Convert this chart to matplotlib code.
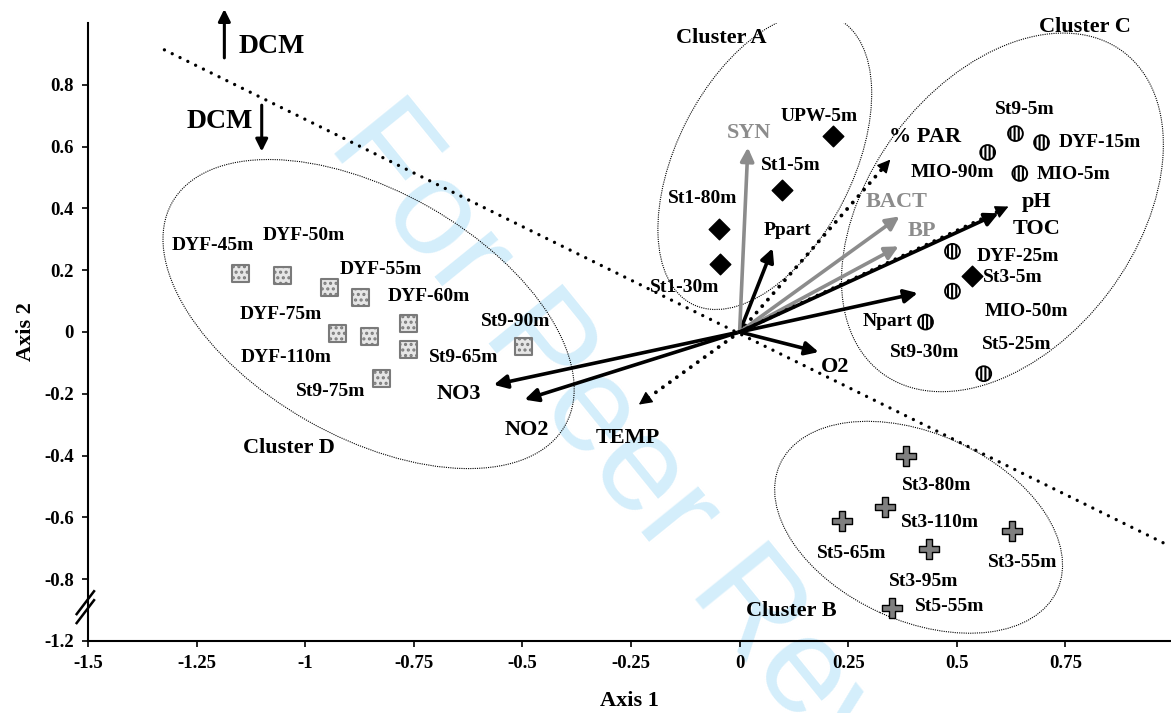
import math
import matplotlib
matplotlib.use('Agg')
import matplotlib.pyplot as plt
from matplotlib.patches import Ellipse, FancyArrowPatch
from matplotlib.transforms import Affine2D

plt.rcParams['font.family'] = ['Liberation Serif', 'DejaVu Serif']
plt.rcParams['font.weight'] = 'bold'
plt.rcParams['hatch.linewidth'] = 1.5

# ---- sample scores (axis 1, axis 2) ----
# cluster D : deep DYF / St9 samples
clD_x = [-1.149, -1.052, -0.944, -0.872, -0.762, -0.925, -0.852, -0.762, -0.497, -0.824]
clD_y = [0.190, 0.184, 0.145, 0.110, 0.026, -0.006, -0.016, -0.058, -0.048, -0.152]
# cluster A : St1 / UPW (+ St3-5m, same symbol)
clA_x = [0.214, 0.097, -0.048, -0.046, 0.534]
clA_y = [0.635, 0.461, 0.332, 0.219, 0.181]
# cluster C : surface samples
clC_x = [0.635, 0.695, 0.571, 0.645, 0.490, 0.490, 0.428, 0.562]
clC_y = [0.642, 0.613, 0.581, 0.513, 0.261, 0.132, 0.032, -0.135]
# cluster B : St3 / St5 deep
clB_x = [0.384, 0.334, 0.235, 0.437, 0.626, 0.350]
clB_y = [-0.400, -0.568, -0.613, -0.703, -0.645, -0.894]

sample_names = ['DYF-45m', 'DYF-50m', 'DYF-55m', 'DYF-60m', 'DYF-75m', 'St9-90m',
                'DYF-110m', 'St9-65m', 'St9-75m',
                'UPW-5m', 'St1-5m', 'St1-80m', 'St1-30m',
                'St9-5m', 'DYF-15m', 'MIO-90m', 'MIO-5m', 'DYF-25m', 'St3-5m',
                'MIO-50m', 'St9-30m', 'St5-25m',
                'St3-80m', 'St3-110m', 'St5-65m', 'St3-95m', 'St3-55m', 'St5-55m']
sample_lx = [-1.213, -1.004, -0.826, -0.716, -1.057, -0.516, -1.045, -0.635, -0.942,
             0.182, 0.117, -0.085, -0.127,
             0.656, 0.829, 0.490, 0.769, 0.640, 0.628, 0.661, 0.426, 0.638,
             0.453, 0.460, 0.258, 0.424, 0.651, 0.483]
sample_ly = [0.281, 0.313, 0.203, 0.116, 0.058, 0.035, -0.084, -0.081, -0.194,
             0.697, 0.539, 0.432, 0.145,
             0.719, 0.613, 0.516, 0.510, 0.245, 0.177, 0.065, -0.065, -0.042,
             -0.497, -0.616, -0.716, -0.806, -0.745, -0.890]

# ---- environmental vectors ----
var_names = ['NO3', 'NO2', 'TEMP', 'O2', 'Ppart', 'SYN', '% PAR', 'BACT', 'BP', 'pH', 'TOC', 'Npart']
var_x = [-0.566, -0.495, -0.232, 0.182, 0.076, 0.019, 0.347, 0.368, 0.366, 0.619, 0.596, 0.410]
var_y = [-0.171, -0.219, -0.235, -0.065, 0.271, 0.597, 0.558, 0.374, 0.277, 0.406, 0.384, 0.126]
var_kind = ['solid', 'solid', 'dotted', 'solid', 'solid', 'gray', 'dotted', 'gray', 'gray',
            'dotted', 'solid', 'solid']
var_lx = [-0.647, -0.490, -0.258, 0.219, 0.110, 0.021, 0.428, 0.361, 0.419, 0.684, 0.684, 0.341]
var_ly = [-0.200, -0.316, -0.342, -0.113, 0.329, 0.645, 0.632, 0.419, 0.326, 0.419, 0.332, 0.035]
var_size = [16, 16, 16, 16, 14, 16, 16, 16, 16, 16, 16, 14]

# cluster outlines: centre x, centre y, width, height (axis-1 units), angle
clusters = ['Cluster A', 'Cluster B', 'Cluster C', 'Cluster D']
ring_cx = [0.058, 0.412, 0.605, -0.854]
ring_cy = [0.552, -0.632, 0.387, 0.058]
ring_w = [0.737, 0.701, 0.925, 1.040]
ring_h = [0.405, 0.431, 0.612, 0.566]
ring_ang = [63, -24.4, 53, -29.6]
cluster_lx = [-0.041, 0.120, 0.794, -1.038]
cluster_ly = [0.952, -0.903, 0.987, -0.377]

# DCM separation line
sep_x = [-1.324, 0.992]
sep_y = [0.913, -0.694]

xticks = [-1.5, -1.25, -1, -0.75, -0.5, -0.25, 0, 0.25, 0.5, 0.75]
xtick_labels = ['-1.5', '-1.25', '-1', '-0.75', '-0.5', '-0.25', '0', '0.25', '0.5', '0.75']
yticks = [0.8, 0.6, 0.4, 0.2, 0, -0.2, -0.4, -0.6, -0.8, -1.0]
ytick_labels = ['0.8', '0.6', '0.4', '0.2', '0', '-0.2', '-0.4', '-0.6', '-0.8', '-1.2']

GRAY = '#8c8c8c'
XMIN, XMAX, YMIN, YMAX = -1.5, 0.993, -1.0, 1.0

fig = plt.figure(figsize=(11.71, 7.13), dpi=100)
ax = fig.add_axes([0.0751, 0.1010, 0.9249, 0.8668])
ax.set_xlim(XMIN, XMAX)
ax.set_ylim(YMIN, YMAX)
ax.patch.set_facecolor('none')

for s in ['top', 'right']:
    ax.spines[s].set_visible(False)
for s in ['left', 'bottom']:
    ax.spines[s].set_linewidth(1.5)

ax.set_xticks(xticks)
ax.set_xticklabels(xtick_labels)
ax.set_yticks(yticks)
ax.set_yticklabels(ytick_labels)
ax.tick_params(direction='out', length=4, width=1.2, labelsize=13.5, pad=6)
ax.set_xlabel('Axis 1', fontsize=16, fontweight='bold', labelpad=14)
ax.set_ylabel('Axis 2', fontsize=16, fontweight='bold', labelpad=6)

# pixel scale of the data axes
pos = ax.get_position()
kx = fig.get_figwidth() * fig.dpi * pos.width / (XMAX - XMIN)
ky = fig.get_figheight() * fig.dpi * pos.height / (YMAX - YMIN)
r = kx / ky

# watermark
ax.text(0.578, 0.27, 'For Peer Review', transform=fig.transFigure, fontsize=99,
        family='Liberation Sans', fontweight='normal', color='#d4eefb',
        rotation=-51, rotation_mode='anchor', ha='center', va='center', zorder=0)

# axis break marks
for dy in [0.0, -0.029]:
    ax.plot([-1.526, -1.486], [-0.913 + dy, -0.839 + dy], color='black', lw=1.8,
            clip_on=False, zorder=5)

# separation line
ax.plot(sep_x, sep_y, color='black', lw=2.4, linestyle=(0, (0.01, 2.6)),
        dash_capstyle='round', zorder=2, clip_on=False)

# cluster rings, drawn in an isotropic frame
iso = Affine2D().scale(1, r) + ax.transData
for cx, cy, w, h, a in zip(ring_cx, ring_cy, ring_w, ring_h, ring_ang):
    ax.add_patch(Ellipse((cx, cy / r), w, h, angle=a, transform=iso, fill=False,
                         edgecolor='black', lw=0.8, linestyle=(0, (1, 1)), zorder=2))
for name, lx, ly in zip(clusters, cluster_lx, cluster_ly):
    ax.text(lx, ly, name, fontsize=16, ha='center', va='center', zorder=6)

# vectors
HEAD_PX = 13
for name, vx, vy, kind, lx, ly, fs in zip(var_names, var_x, var_y, var_kind,
                                          var_lx, var_ly, var_size):
    col = GRAY if kind == 'gray' else 'black'
    if kind == 'dotted':
        # dotted shaft + solid head
        L = math.hypot(vx * kx, vy * ky)
        f = 1 - HEAD_PX / L
        ax.plot([0, vx * f], [0, vy * f], color=col, lw=2.8,
                linestyle=(0, (0.01, 2.2)), dash_capstyle='round', zorder=4)
        ax.add_patch(FancyArrowPatch((vx * f, vy * f), (vx, vy), arrowstyle='-|>',
                                     mutation_scale=20, color=col, lw=1,
                                     shrinkA=0, shrinkB=0, zorder=4))
    else:
        ax.add_patch(FancyArrowPatch((0, 0), (vx, vy), arrowstyle='-|>', mutation_scale=20,
                                     color=col, lw=2.6, shrinkA=0, shrinkB=0, zorder=4))
    ax.text(lx, ly, name, fontsize=fs, color=col, ha='center', va='center', zorder=6)

# DCM arrows
ax.annotate('', xy=(-1.186, 1.045), xytext=(-1.186, 0.887),
            arrowprops=dict(arrowstyle='-|>', lw=2.2, color='black', mutation_scale=18,
                            shrinkA=0, shrinkB=0), annotation_clip=False)
ax.annotate('', xy=(-1.100, 0.584), xytext=(-1.100, 0.734),
            arrowprops=dict(arrowstyle='-|>', lw=2.2, color='black', mutation_scale=18,
                            shrinkA=0, shrinkB=0), annotation_clip=False)
ax.text(-1.077, 0.923, 'DCM', fontsize=20, ha='center', va='center', clip_on=False)
ax.text(-1.197, 0.681, 'DCM', fontsize=20, ha='center', va='center')

# samples
ax.scatter(clD_x, clD_y, marker='s', s=150, facecolor='#e6e6e6', edgecolor='#7a7a7a',
           linewidths=1.5, hatch='...', zorder=5)
ax.scatter(clA_x, clA_y, marker='D', s=110, facecolor='black', edgecolor='black', zorder=5)
ax.scatter(clC_x, clC_y, marker='o', s=115, facecolor='white', edgecolor='black',
           linewidths=1.3, hatch='||||', zorder=5)
ax.scatter(clB_x, clB_y, marker='P', s=190, facecolor='#7f7f7f', edgecolor='black',
           linewidths=1.0, zorder=5)

for name, lx, ly in zip(sample_names, sample_lx, sample_ly):
    ax.text(lx, ly, name, fontsize=14, ha='center', va='center', zorder=6)

fig.savefig('out.png', dpi=100)
